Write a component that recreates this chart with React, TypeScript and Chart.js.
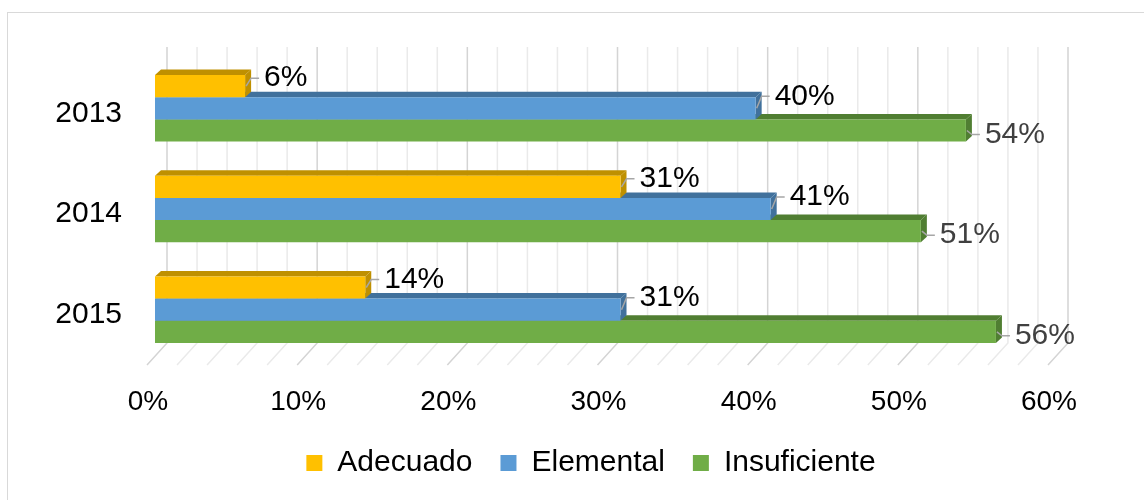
import React, { useEffect, useRef } from "react";
import { Chart, registerables } from "chart.js";

Chart.register(...registerables);

// ---- data ----
const categories = ["2013", "2014", "2015"];
const seriesNames = ["Adecuado", "Elemental", "Insuficiente"];
const adecuado = [6, 31, 14];
const elemental = [40, 41, 31];
const insuficiente = [54, 51, 56];
const xMin = 0;
const xMax = 60;
const xStep = 10;
const gridStep = 2;

// ---- style ----
const FONT = "'Liberation Sans', Arial, sans-serif";
const faceColors = ["#FFC000", "#5B9BD5", "#70AD47"];
const darkColors = ["#BF9000", "#41719C", "#507E32"];
const labelColors = ["#000000", "#000000", "#404040"];
const labelDy = [-8, -12, 4];
const DX = 6;
const DY = 5.5;

const threeD = {
  id: "threeD",
  beforeDatasetsDraw(chart: any) {
    const { ctx, chartArea } = chart;
    const xs = chart.scales.x;
    ctx.save();
    // back wall + floor grid
    const wallTop = chartArea.top - 11;
    const wallBottom = chartArea.bottom - 17;
    const floorFront = chartArea.bottom + 5;
    for (let v = xMin; v <= xMax; v += gridStep) {
      const xb = xs.getPixelForValue(v) + 12;
      const major = v % xStep === 0;
      ctx.strokeStyle = major ? "#D4D4D4" : "#EAEAEA";
      ctx.lineWidth = 1.5;
      ctx.beginPath();
      ctx.moveTo(xb, wallTop);
      ctx.lineTo(xb, wallBottom);
      ctx.lineTo(xb - 20, floorFront);
      ctx.stroke();
    }
    // top + side faces, bottom series first
    for (let i = chart.data.datasets.length - 1; i >= 0; i--) {
      const meta = chart.getDatasetMeta(i);
      meta.data.forEach((el: any) => {
        const p = el.getProps(["x", "y", "base", "height"], true);
        const top = p.y - p.height / 2;
        const bottom = p.y + p.height / 2;
        ctx.fillStyle = darkColors[i];
        ctx.beginPath();
        ctx.moveTo(p.base, top);
        ctx.lineTo(p.x, top);
        ctx.lineTo(p.x + DX, top - DY);
        ctx.lineTo(p.base + DX, top - DY);
        ctx.closePath();
        ctx.fill();
        ctx.beginPath();
        ctx.moveTo(p.x, top);
        ctx.lineTo(p.x + DX, top - DY);
        ctx.lineTo(p.x + DX, bottom - DY);
        ctx.lineTo(p.x, bottom);
        ctx.closePath();
        ctx.fill();
      });
    }
    ctx.restore();
  },
  afterDatasetsDraw(chart: any) {
    const { ctx } = chart;
    ctx.save();
    ctx.font = `30px ${FONT}`;
    ctx.textAlign = "left";
    ctx.textBaseline = "middle";
    chart.data.datasets.forEach((ds: any, i: number) => {
      const meta = chart.getDatasetMeta(i);
      meta.data.forEach((el: any, j: number) => {
        const p = el.getProps(["x", "y"], true);
        const lx = p.x + 19;
        const ly = p.y + labelDy[i];
        ctx.strokeStyle = "#A6A6A6";
        ctx.lineWidth = 1.5;
        ctx.beginPath();
        ctx.moveTo(p.x + 1, p.y);
        ctx.lineTo(p.x + DX, ly);
        ctx.lineTo(lx - 5, ly);
        ctx.stroke();
        ctx.fillStyle = labelColors[i];
        ctx.fillText(`${ds.data[j]}%`, lx, ly);
      });
    });
    ctx.restore();
  },
};

export default function App() {
  const ref = useRef<HTMLCanvasElement | null>(null);

  useEffect(() => {
    if (!ref.current) return;
    const chart = new Chart(ref.current, {
      type: "bar",
      data: {
        labels: categories,
        datasets: [adecuado, elemental, insuficiente].map((d, i) => ({
          label: seriesNames[i],
          data: d,
          backgroundColor: faceColors[i],
          borderWidth: 0,
          categoryPercentage: 0.66,
          barPercentage: 1.0,
        })),
      },
      options: {
        indexAxis: "y",
        animation: false,
        responsive: false,
        maintainAspectRatio: false,
        devicePixelRatio: 1,
        layout: { padding: { left: 40, right: 2, top: 58, bottom: 12 } },
        plugins: {
          tooltip: { enabled: false },
          legend: {
            position: "bottom",
            labels: {
              boxWidth: 16,
              boxHeight: 16,
              padding: 28,
              color: "#000",
              font: { family: FONT, size: 30 },
            },
          },
        },
        scales: {
          x: {
            type: "linear",
            min: xMin,
            max: xMax,
            grid: { display: false, drawTicks: false },
            border: { display: false },
            ticks: {
              stepSize: xStep,
              callback: (v: any) => `${v}%`,
              color: "#000",
              font: { family: FONT, size: 28 },
              padding: 25,
              labelOffset: -7,
              maxRotation: 0,
            },
            afterFit: (s: any) => {
              s.height = 60;
            },
          },
          y: {
            type: "category",
            position: "left",
            grid: { display: false, drawTicks: false },
            border: { display: false },
            ticks: {
              color: "#000",
              font: { family: FONT, size: 30 },
              padding: 33,
              labelOffset: 5,
            },
            afterFit: (s: any) => {
              s.width = 115;
            },
          },
          spacer: {
            type: "category",
            position: "right",
            labels: [""],
            grid: { display: false, drawTicks: false },
            border: { display: false },
            ticks: { display: false },
            afterFit: (s: any) => {
              s.width = 86;
            },
          },
        },
      },
      plugins: [threeD],
    });
    return () => chart.destroy();
  }, []);

  return (
    <div
      style={{
        position: "fixed",
        left: 0,
        top: 0,
        width: 1144,
        height: 500,
        background: "#fff",
        overflow: "hidden",
      }}
    >
      <div
        style={{
          position: "absolute",
          left: 7,
          top: 12,
          width: 1300,
          height: 700,
          borderLeft: "1.5px solid #D9D9D9",
          borderTop: "1.5px solid #D9D9D9",
        }}
      />
      <canvas
        ref={ref}
        width={1144}
        height={500}
        style={{ position: "absolute", left: 0, top: 0, width: 1144, height: 500 }}
      />
    </div>
  );
}
